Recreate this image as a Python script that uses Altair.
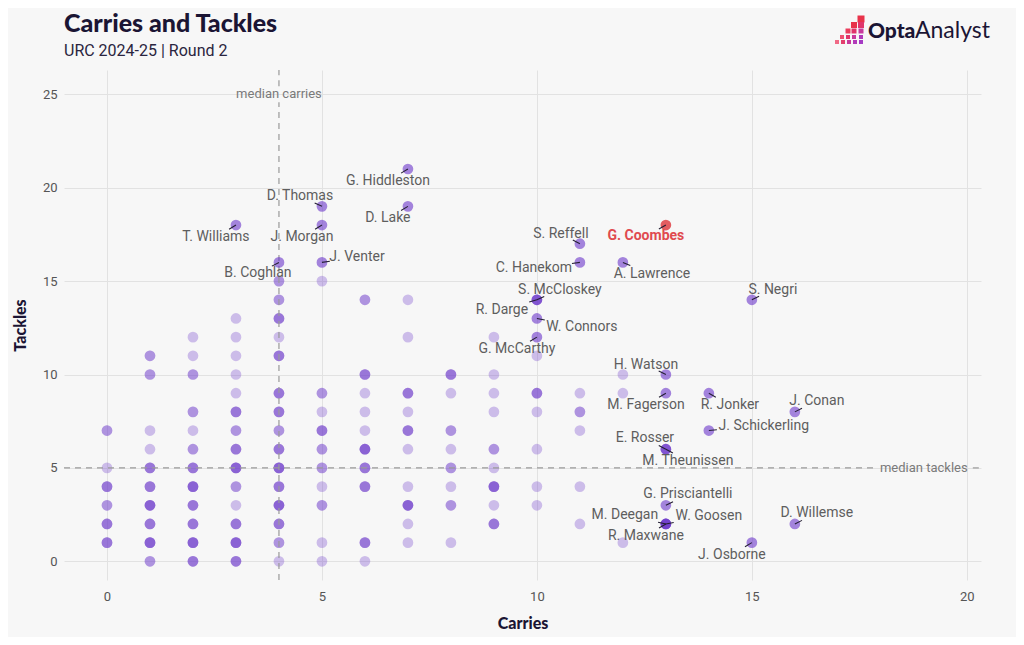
import altair as alt
import pandas as pd
import numpy as np

# ---------------- data ----------------
# background players, grouped by identical (carries, tackles) cell
CARRIES = ([0]*6 + [1]*10 + [2]*12 + [3]*14 + [4]*15 + [5]*10 + [6]*10 + [7]*10
           + [8]*8 + [9]*9 + [10]*6 + [11]*5 + [12]*3)
TACKLES = ([7, 5, 4, 3, 2, 1]
           + [11, 10, 7, 6, 5, 4, 3, 2, 1, 0]
           + [12, 11, 10, 8, 7, 6, 5, 4, 3, 2, 1, 0]
           + [13, 12, 11, 10, 9, 8, 7, 6, 5, 4, 3, 2, 1, 0]
           + [15, 14, 13, 12, 11, 9, 8, 7, 6, 5, 4, 3, 2, 1, 0]
           + [15, 9, 8, 7, 6, 5, 4, 3, 1, 0]
           + [14, 10, 9, 8, 7, 6, 5, 4, 1, 0]
           + [14, 12, 9, 8, 7, 6, 4, 3, 2, 1]
           + [10, 9, 7, 6, 5, 4, 3, 1]
           + [12, 10, 9, 8, 6, 5, 4, 3, 2]
           + [11, 9, 8, 6, 4, 3]
           + [9, 8, 7, 4, 2]
           + [10, 9, 1])
COUNTS = ([2, 1, 3, 2, 3, 3]
          + [2, 2, 1, 1, 3, 3, 4, 3, 4, 2]
          + [1, 1, 2, 2, 1, 2, 3, 4, 3, 3, 4, 3]
          + [1, 1, 1, 1, 1, 3, 2, 3, 4, 2, 1, 3, 4, 3]
          + [2, 2, 3, 1, 3, 3, 3, 2, 3, 4, 3, 4, 3, 2, 1]
          + [1, 2, 1, 3, 2, 2, 1, 2, 1, 1]
          + [2, 3, 1, 1, 1, 4, 3, 3, 3, 1]
          + [1, 1, 3, 1, 3, 1, 1, 4, 1, 1]
          + [3, 1, 2, 1, 2, 1, 2, 1]
          + [1, 1, 1, 1, 2, 1, 4, 1, 3]
          + [1, 3, 1, 1, 1, 1]
          + [1, 2, 1, 1, 1]
          + [1, 1, 1])

# labelled players
PLAYERS = ["G. Hiddleston", "D. Thomas", "D. Lake", "T. Williams", "J. Morgan",
           "J. Venter", "B. Coghlan", "S. Reffell", "G. Coombes", "C. Hanekom",
           "A. Lawrence", "S. McCloskey", "R. Darge", "W. Connors", "G. McCarthy",
           "S. Negri", "H. Watson", "M. Fagerson", "R. Jonker", "J. Conan",
           "J. Schickerling", "E. Rosser", "M. Theunissen", "G. Prisciantelli",
           "M. Deegan", "W. Goosen", "R. Maxwane", "J. Osborne", "D. Willemse"]
P_CARRIES = [7, 5, 7, 3, 5, 5, 4, 11, 13, 11, 12, 10, 10, 10, 10, 15, 13, 13, 14, 16,
             14, 13, 13, 13, 13, 13, 13, 15, 16]
P_TACKLES = [21, 19, 19, 18, 18, 16, 16, 17, 18, 16, 16, 14, 14, 13, 12, 14, 10, 9, 9, 8,
             7, 6, 6, 3, 2, 2, 2, 1, 2]
HIGHLIGHT = "G. Coombes"

MEDIAN_CARRIES = 4
MEDIAN_TACKLES = 5

# ---------------- layout / style ----------------
W, H = 917, 510
XMIN, XMAX = -1, 20.33
YMIN, YMAX = -1, 26.3
PX_X = W / (XMAX - XMIN)
PX_Y = H / (YMAX - YMIN)

# label offsets in pixels (dx right, dy down) relative to the point
LABEL_OFFSETS = {
    "G. Hiddleston": (-20, 12), "D. Thomas": (-22, -10), "D. Lake": (-20, 12),
    "T. Williams": (-20, 12), "J. Morgan": (-20, 12), "J. Venter": (35, -5),
    "B. Coghlan": (-21, 11), "S. Reffell": (-19, -10), "G. Coombes": (-20, 11),
    "C. Hanekom": (-46, 6), "A. Lawrence": (29, 12), "S. McCloskey": (23, -10),
    "R. Darge": (-35, 10), "W. Connors": (45, 9), "G. McCarthy": (-20, 12),
    "S. Negri": (21, -10), "H. Watson": (-20, -10), "M. Fagerson": (-20, 12),
    "R. Jonker": (21, 12), "J. Conan": (22, -11), "J. Schickerling": (55, -5),
    "E. Rosser": (-21, -11), "M. Theunissen": (22, 12), "G. Prisciantelli": (22, -11),
    "M. Deegan": (-41, -9), "W. Goosen": (43, -8), "R. Maxwane": (-20, 12),
    "J. Osborne": (-20, 12), "D. Willemse": (22, -11),
}

PURPLE = "#6a35c9"
RED = "#e04a4f"
BG = "#f7f7f7"
FONT = "Roboto"
TITLE_FONT = "Lato"
DARK = "#1b1534"

# ---------------- frames ----------------
bg = pd.DataFrame({"carries": CARRIES, "tackles": TACKLES, "n": COUNTS})
bg = bg.loc[bg.index.repeat(bg["n"])].reset_index(drop=True)

pl = pd.DataFrame({"player": PLAYERS, "carries": P_CARRIES, "tackles": P_TACKLES})
dxs = np.array([LABEL_OFFSETS[p][0] for p in PLAYERS], dtype=float)
dys = np.array([LABEL_OFFSETS[p][1] for p in PLAYERS], dtype=float)
pl["lx"] = pl["carries"] + dxs / PX_X
pl["ly"] = pl["tackles"] - dys / PX_Y
norm = np.sqrt(dxs ** 2 + dys ** 2)
pl["cx"] = pl["carries"] + 8 * dxs / norm / PX_X
pl["cy"] = pl["tackles"] - 8 * dys / norm / PX_Y
pl["hl"] = pl["player"] == HIGHLIGHT
pl_norm = pl[~pl["hl"]]
pl_hl = pl[pl["hl"]]

xs = alt.Scale(domain=[XMIN, XMAX], nice=False, zero=False)
ys = alt.Scale(domain=[YMIN, YMAX], nice=False, zero=False)

x_axis = alt.Axis(values=[0, 5, 10, 15, 20], title="Carries", grid=True)
y_axis = alt.Axis(values=[0, 5, 10, 15, 20, 25], title="Tackles", grid=True)

base_pts = alt.Chart(bg).mark_circle(size=115, color=PURPLE, opacity=0.3).encode(
    x=alt.X("carries:Q", scale=xs, axis=x_axis),
    y=alt.Y("tackles:Q", scale=ys, axis=y_axis),
)

# median lines (with gaps where the labels sit)
vgap = 8 / PX_Y
vline = pd.DataFrame({"x": [MEDIAN_CARRIES, MEDIAN_CARRIES],
                      "y": [YMIN, 25 + vgap], "y2": [25 - vgap, YMAX]})
vrule = alt.Chart(vline).mark_rule(color="#9a9a9a", strokeDash=[6, 5], strokeWidth=1.2).encode(
    x=alt.X("x:Q", scale=xs), y=alt.Y("y:Q", scale=ys), y2="y2:Q")
htxt_x = 19.0
hgap = 49 / PX_X
hline = pd.DataFrame({"y": [MEDIAN_TACKLES, MEDIAN_TACKLES],
                      "x": [XMIN, htxt_x + hgap], "x2": [htxt_x - hgap, XMAX]})
hrule = alt.Chart(hline).mark_rule(color="#9a9a9a", strokeDash=[6, 5], strokeWidth=1.2).encode(
    y=alt.Y("y:Q", scale=ys), x=alt.X("x:Q", scale=xs), x2="x2:Q")

mtext = alt.Chart(pd.DataFrame({"x": [MEDIAN_CARRIES, htxt_x], "y": [25, MEDIAN_TACKLES],
                                "t": ["median carries", "median tackles"]})).mark_text(
    font=FONT, fontSize=13, color="#7a7a7a", align="center", baseline="middle").encode(
    x=alt.X("x:Q", scale=xs), y=alt.Y("y:Q", scale=ys), text="t:N")

lab_pts = alt.Chart(pl_norm).mark_circle(size=115, opacity=0.6, color=PURPLE).encode(
    x=alt.X("carries:Q", scale=xs), y=alt.Y("tackles:Q", scale=ys))
hl_pts = alt.Chart(pl_hl).mark_circle(size=115, opacity=0.9, color=RED).encode(
    x=alt.X("carries:Q", scale=xs), y=alt.Y("tackles:Q", scale=ys))

conn = alt.Chart(pl).mark_rule(color="#241f33", strokeWidth=1.1).encode(
    x=alt.X("carries:Q", scale=xs), y=alt.Y("tackles:Q", scale=ys), x2="cx:Q", y2="cy:Q")

labels = alt.Chart(pl_norm).mark_text(font=FONT, fontSize=14, align="center", baseline="middle",
                                      color="#5e5e5e").encode(
    x=alt.X("lx:Q", scale=xs), y=alt.Y("ly:Q", scale=ys), text="player:N")
hl_labels = alt.Chart(pl_hl).mark_text(font=FONT, fontSize=14, fontWeight="bold", align="center",
                                       baseline="middle", color=RED).encode(
    x=alt.X("lx:Q", scale=xs), y=alt.Y("ly:Q", scale=ys), text="player:N")

title = alt.Chart(pd.DataFrame({"t": ["Carries and Tackles"]})).mark_text(
    font=TITLE_FONT, fontSize=25, fontWeight=900, color=DARK, align="left", baseline="alphabetic").encode(
    x=alt.value(0), y=alt.value(-38), text="t:N")
subtitle = alt.Chart(pd.DataFrame({"t": ["URC 2024-25 | Round 2"]})).mark_text(
    font=FONT, fontSize=16, color="#2a2540", align="left", baseline="alphabetic").encode(
    x=alt.value(0), y=alt.value(-14), text="t:N")
logo1 = alt.Chart(pd.DataFrame({"t": ["Opta"]})).mark_text(
    font=TITLE_FONT, fontSize=21, fontWeight=900, color=DARK, align="left", baseline="alphabetic").encode(
    x=alt.value(804), y=alt.value(-32), text="t:N")
logo2 = alt.Chart(pd.DataFrame({"t": ["Analyst"]})).mark_text(
    font=TITLE_FONT, fontSize=23, fontWeight=400, color=DARK, align="left", baseline="alphabetic").encode(
    x=alt.value(851), y=alt.value(-32), text="t:N")

# logo icon (decorative pixel staircase)
ICON = [(797, -51, 7, "#e8334a"),
        (790, -45, 6, "#e8334a"), (797, -45, 6, "#e0356a"),
        (784, -39, 5, "#ea3d5c"), (790, -39, 5, "#e0356a"), (797, -39, 5, "#c83a9c"),
        (778, -33, 4, "#ee5070"), (784, -33, 4, "#e0356a"), (790, -33, 4, "#c83a9c"), (797, -33, 4, "#b23ab9"),
        (773, -28, 4, "#f06a86"), (779, -28, 4, "#e33f6d"), (785, -28, 4, "#c83a9c"), (791, -28, 4, "#b23ab9"),
        (797, -28, 4, "#a53ac4")]
icon_layers = [
    alt.Chart(pd.DataFrame({"k": [0]})).mark_square(size=s * s, color=c, opacity=1).encode(
        x=alt.value(px), y=alt.value(py))
    for (px, py, s, c) in ICON
]

chart = alt.layer(
    base_pts, vrule, hrule, mtext, lab_pts, hl_pts, conn, labels, hl_labels,
    title, subtitle, logo1, logo2, *icon_layers
).properties(
    width=W, height=H,
    padding={"left": 56, "top": 62, "right": 35, "bottom": 57},
    autosize=alt.AutoSizeParams(type="none"),
    background=BG,
).configure_view(stroke=None).configure_axis(
    domain=False, ticks=False, gridColor="#e2e2e2", gridWidth=1,
    labelFont=FONT, labelFontSize=13, labelColor="#555555",
    titleFont=TITLE_FONT, titleFontSize=16, titleFontWeight=900, titleColor=DARK,
).configure_axisX(labelPadding=10, titlePadding=12).configure_axisY(labelPadding=7, titlePadding=14)

chart.save("out.html", embed_options={"renderer": "svg", "actions": False})
